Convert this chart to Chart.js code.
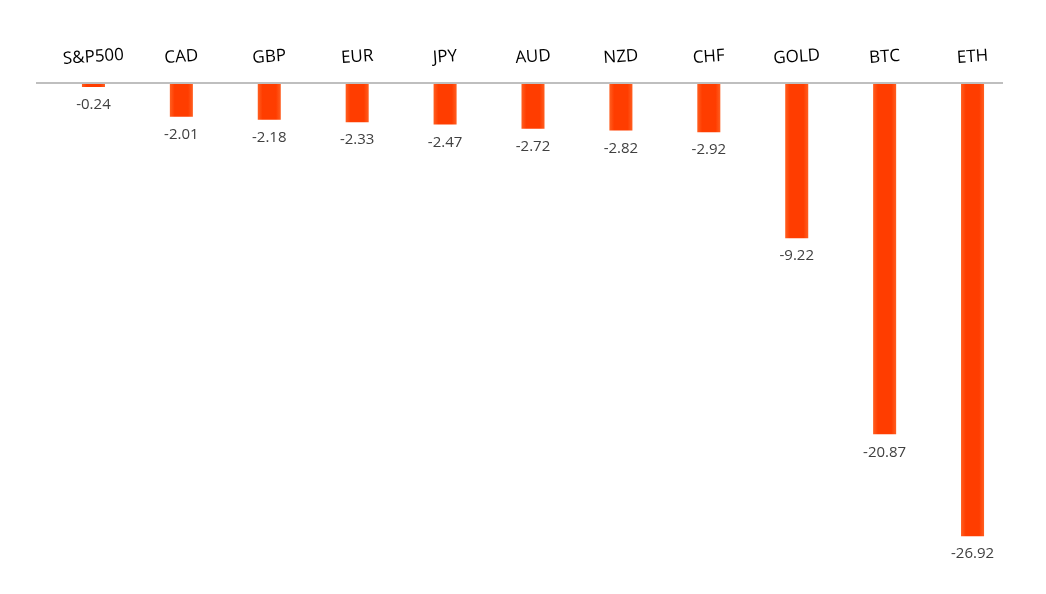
<!DOCTYPE html>
<html>
<head>
<meta charset="utf-8">
<script src="https://cdn.jsdelivr.net/npm/chart.js@4.4.1/dist/chart.umd.min.js"></script>
<style>
  html, body { margin: 0; padding: 0; background: #fff; }
  #wrap { width: 1046px; height: 594px; }
</style>
</head>
<body>
<div id="wrap"><canvas id="chart"></canvas></div>
<script>
// chart data
const categories = ['S&P500', 'CAD', 'GBP', 'EUR', 'JPY', 'AUD', 'NZD', 'CHF', 'GOLD', 'BTC', 'ETH'];
const changes = [-0.24, -2.01, -2.18, -2.33, -2.47, -2.72, -2.82, -2.92, -9.22, -20.87, -26.92];

// bars get a slightly lighter edge on both sides
function barFill(ctx) {
    const chart = ctx.chart;
    if (!chart.chartArea || !chart.scales.x) return '#FF3D00';
    const cx = chart.scales.x.getPixelForValue(ctx.dataIndex);
    const g = chart.ctx.createLinearGradient(cx - 12, 0, cx + 12, 0);
    g.addColorStop(0, '#FF6224');
    g.addColorStop(0.22, '#FF3D00');
    g.addColorStop(0.78, '#FF3D00');
    g.addColorStop(1, '#FF6224');
    return g;
}

// zero line, tilted category names and value labels
const decorations = {
    id: 'decorations',
    afterDatasetsDraw(chart) {
        const { ctx, chartArea, scales } = chart;
        const y0 = scales.y.getPixelForValue(0);
        ctx.save();
        // the axis line sits a bit left of the bar grid, like the original
        ctx.strokeStyle = '#BFBFBF';
        ctx.lineWidth = 2;
        ctx.beginPath();
        ctx.moveTo(chartArea.left - 13.5, y0);
        ctx.lineTo(chartArea.right - 13.5, y0);
        ctx.stroke();

        categories.forEach(function(name, i) {
            const x = scales.x.getPixelForValue(i);
            ctx.save();
            ctx.translate(x, y0 - 26);
            ctx.rotate(-4 * Math.PI / 180);
            ctx.fillStyle = '#000';
            ctx.font = '17px "Open Sans"';
            ctx.textAlign = 'center';
            ctx.textBaseline = 'middle';
            ctx.fillText(name, 0, 0);
            ctx.restore();

            const yEnd = scales.y.getPixelForValue(changes[i]);
            ctx.fillStyle = '#404040';
            ctx.font = '15px "Open Sans"';
            ctx.textAlign = 'center';
            ctx.textBaseline = 'middle';
            ctx.fillText(changes[i].toFixed(2), x, yEnd + 18);
        });
        ctx.restore();
    }
};

new Chart(document.getElementById('chart'), {
    type: 'bar',
    data: {
        labels: categories,
        datasets: [{
            data: changes,
            backgroundColor: barFill,
            borderWidth: 0,
            categoryPercentage: 1,
            barPercentage: 0.262
        }]
    },
    options: {
        responsive: true,
        maintainAspectRatio: false,
        animation: false,
        layout: { padding: { left: 49.5, right: 29.5, top: 83, bottom: 6 } },
        plugins: {
            legend: { display: false },
            tooltip: { enabled: false }
        },
        scales: {
            x: { display: false },
            y: { display: false, min: -30, max: 0 }
        }
    },
    plugins: [decorations]
});
</script>
</body>
</html>
